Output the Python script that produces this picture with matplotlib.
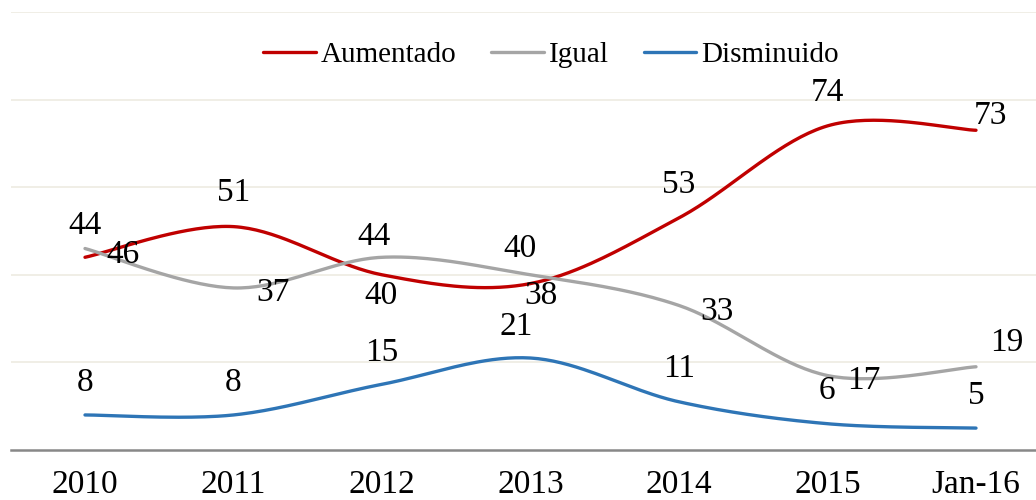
import numpy as np
import matplotlib
matplotlib.use('Agg')
import matplotlib.pyplot as plt

plt.rcParams['font.family'] = ['Liberation Serif', 'DejaVu Serif']

categories = ['2010', '2011', '2012', '2013', '2014', '2015', 'Jan-16']
aumentado = [44, 51, 40, 38, 53, 74, 73]
igual = [46, 37, 44, 40, 33, 17, 19]
disminuido = [8, 8, 15, 21, 11, 6, 5]

# label offsets in pixels (dx, dy)
off_aum = [(0, 32), (0, 34), (-1, -21), (10, -12), (0, 33), (0, 33), (14, 15)]
off_igu = [(38, -6), (39, -5), (-8, 21), (-11, 26), (38, -6), (36, -5), (31, 24)]
off_dis = [(0, 32), (0, 32), (0, 32), (-14, 31), (0, 33), (-1, 33), (0, 32)]


def smooth(xs, ys, n=40):
    # excel-like smoothed line (catmull-rom as bezier)
    pts = np.column_stack([xs, ys]).astype(float)
    p = np.vstack([pts[0], pts, pts[-1]])
    out = []
    t = np.linspace(0, 1, n)[:, None]
    for i in range(1, len(p) - 2):
        p0, p1, p2, p3 = p[i - 1], p[i], p[i + 1], p[i + 2]
        c1 = p1 + (p2 - p0) / 6
        c2 = p2 - (p3 - p1) / 6
        seg = ((1 - t) ** 3) * p1 + 3 * ((1 - t) ** 2) * t * c1 + 3 * (1 - t) * t ** 2 * c2 + t ** 3 * p2
        out.append(seg if i == 1 else seg[1:])
    s = np.vstack(out)
    return s[:, 0], s[:, 1]


fig = plt.figure(figsize=(10.36, 5), dpi=100)
ax = fig.add_axes([11 / 1036, 0.1, 1 - 11 / 1036, 438 / 500])

x = np.arange(len(categories))
series = [
    ('Aumentado', aumentado, '#C00000', off_aum),
    ('Igual', igual, '#A5A5A5', off_igu),
    ('Disminuido', disminuido, '#2E75B6', off_dis),
]
for name, vals, col, offs in series:
    sx, sy = smooth(x, vals)
    ax.plot(sx, sy, color=col, linewidth=2.4, label=name, solid_capstyle='round', zorder=3)
    for i, v in enumerate(vals):
        ax.annotate(str(v), (x[i], v), xytext=offs[i], textcoords='offset pixels',
                    ha='center', va='center', fontsize=24, color='black', zorder=4)

ax.set_ylim(0, 100)
ax.set_xlim(-74 / 148.5, 6 + 60 / 148.5)
ax.set_yticks([20, 40, 60, 80, 100])
ax.yaxis.grid(True, color='#EDEBE2', linewidth=1.2)
ax.set_axisbelow(True)
ax.tick_params(axis='y', left=False, labelleft=False)
ax.set_xticks(x)
ax.set_xticklabels(categories, fontsize=24)
ax.tick_params(axis='x', length=0, pad=14)
for s in ['top', 'right', 'left']:
    ax.spines[s].set_visible(False)
ax.spines['bottom'].set_color('#888888')
ax.spines['bottom'].set_linewidth(1.8)

fig.legend(loc='center', bbox_to_anchor=(551 / 1036, 1 - 55 / 500), ncol=3, frameon=False,
           fontsize=21, handlelength=1.8, handletextpad=0.17, columnspacing=1.2)

plt.savefig('out.png', dpi=100)
plt.close()
